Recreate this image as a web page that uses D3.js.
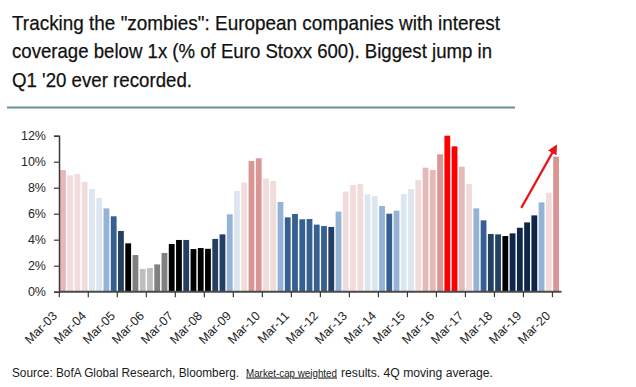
<!DOCTYPE html>
<html>
<head>
<meta charset="utf-8">
<script src="https://cdn.jsdelivr.net/npm/d3@7"></script>
<style>
  body { margin: 0; background: #fff; }
  .narrow { font-family: "Liberation Sans Narrow", "Arial Narrow", "Liberation Sans", sans-serif; }
  .axis text { font-family: "Liberation Sans", Arial, sans-serif; font-size: 12.5px; fill: #262626; }
</style>
</head>
<body>
<div id="chart-area"></div>
<script>

    // quarterly share of zombie companies (% of Euro Stoxx 600), Q1 '03 .. Q1 '20
    var years = ['03','04','05','06','07','08','09','10','11','12','13','14','15','16','17','18','19','20'];
    var months = ['Mar','Jun','Sep','Dec'];
    var zombieShare = [
      9.36, 8.95, 9.05, 8.44, 7.90, 7.20, 6.41, 5.80, 4.67, 3.72,
      2.82, 1.75, 1.82, 2.10, 2.98, 3.67, 3.98, 3.98, 3.28, 3.36,
      3.30, 4.06, 4.41, 5.95, 7.75, 8.39, 10.05, 10.26, 8.70, 8.52,
      6.90, 5.72, 5.98, 5.57, 5.59, 5.16, 5.05, 4.98, 6.16, 7.70,
      8.20, 8.28, 7.49, 7.36, 6.59, 6.00, 6.23, 7.51, 7.90, 8.59,
      9.54, 9.36, 10.57, 12.00, 11.18, 9.62, 8.28, 6.41, 5.49, 4.44,
      4.41, 4.28, 4.49, 4.92, 5.33, 5.87, 6.87, 7.62, 10.39
    ];
    // heat level of each bar in the source (0 = coolest .. 11 = hottest)
    var heatLevel = [
      9, 8, 8, 8, 7, 7, 6, 5, 4, 2,
      1, 0, 0, 1, 1, 2, 2, 4, 2, 2,
      2, 4, 4, 6, 7, 8, 10, 10, 8, 8,
      6, 5, 5, 5, 5, 5, 5, 4, 6, 8,
      8, 8, 7, 7, 6, 5, 6, 7, 7, 8,
      9, 9, 10, 11, 11, 9, 8, 6, 5, 4,
      4, 2, 3, 3, 3, 3, 6, 8, 10
    ];
    var yTicks = [0, 2, 4, 6, 8, 10, 12];

    var titleLines = [
      'Tracking the "zombies": European companies with interest',
      'coverage below 1x (% of Euro Stoxx 600). Biggest jump in',
      "Q1 '20 ever recorded."
    ];
    var sourceParts = [
      'Source: BofA Global Research, Bloomberg.',
      'Market-cap weighted',
      'results. 4Q moving average.'
    ];

    var quarters = [];
    years.forEach((yr) => {
      months.forEach((m) => { quarters.push(m + '-' + yr); });
    });
    quarters = quarters.slice(0, zombieShare.length);
    var data = zombieShare.map((v, i) => ({ q: quarters[i], value: v, heat: heatLevel[i] }));

    var svg = d3.select('#chart-area')
        .append('svg')
        .attr('width', 636)
        .attr('height', 387);

    svg.append('rect').attr('width', 636).attr('height', 387).attr('fill', '#fff');

    // title
    var titleLen = [488, 480, 180];
    var titleBase = [29.5, 58, 87];
    titleLines.forEach((t, i) => {
      svg.append('text')
        .attr('class', 'narrow')
        .attr('x', 12)
        .attr('y', titleBase[i])
        .attr('font-size', '21px')
        .attr('fill', '#111')
        .attr('stroke', '#111')
        .attr('stroke-width', 0.25)
        .attr('textLength', titleLen[i])
        .attr('lengthAdjust', 'spacingAndGlyphs')
        .text(t);
    });

    svg.append('line')
      .attr('x1', 7).attr('x2', 515)
      .attr('y1', 107.5).attr('y2', 107.5)
      .attr('stroke', '#6a8f9a')
      .attr('stroke-width', 2);

    var plotLeft = 59, plotRight = 560, plotTop = 135.7, plotBottom = 291.7;

    var xScale = d3.scaleBand()
      .domain(quarters)
      .range([plotLeft, plotRight])
      .paddingInner(0.2)
      .paddingOuter(0.14);

    var yScale = d3.scaleLinear()
      .domain([0, 12])
      .range([plotBottom, plotTop]);

    var heatColor = d3.scaleOrdinal()
      .domain(d3.range(12))
      .range(['#bfbfbf', '#808080', '#000000', '#10254a', '#233f62', '#366092',
              '#95b3d7', '#dce6f1', '#f2dcdb', '#e6b8b7', '#da9694', '#ff0000']);

    svg.append('g')
      .selectAll('rect')
      .data(data)
      .enter()
      .append('rect')
        .attr('x', (d) => xScale(d.q))
        .attr('width', xScale.bandwidth())
        .attr('y', (d) => yScale(d.value))
        .attr('height', (d) => yScale(0) - yScale(d.value))
        .attr('fill', (d) => heatColor(d.heat));

    // y axis
    var yAxisCall = d3.axisLeft(yScale)
      .tickValues(yTicks)
      .tickSize(5)
      .tickPadding(8)
      .tickFormat((d) => d + '%');
    var yAxis = svg.append('g')
      .attr('class', 'axis')
      .attr('transform', `translate(${plotLeft},0)`)
      .call(yAxisCall);
    yAxis.select('.domain').attr('stroke', '#3a3a3a').attr('stroke-width', 1.5);
    yAxis.selectAll('line').attr('stroke', '#3a3a3a').attr('stroke-width', 1.2);

    // x axis: ticks between categories, one label per year
    var step = xScale.step();
    var tickQs = quarters.filter((q, i) => i % 4 === 0);
    var xg = svg.append('g').attr('class', 'axis');
    xg.append('line')
      .attr('x1', plotLeft).attr('x2', plotRight + 1.5)
      .attr('y1', plotBottom).attr('y2', plotBottom)
      .attr('stroke', '#4a4a4a')
      .attr('stroke-width', 2);
    xg.selectAll('.tick')
      .data(tickQs)
      .enter()
      .append('line')
        .attr('x1', (q) => xScale(q) - step * xScale.paddingInner() / 2)
        .attr('x2', (q) => xScale(q) - step * xScale.paddingInner() / 2)
        .attr('y1', plotBottom)
        .attr('y2', plotBottom + 5.5)
        .attr('stroke', '#3a3a3a')
        .attr('stroke-width', 1.2);
    xg.selectAll('.lbl')
      .data(tickQs)
      .enter()
      .append('text')
        .attr('transform', (q) => `translate(${xScale(q) + xScale.bandwidth() / 2 - 5},${plotBottom + 25}) rotate(-45)`)
        .attr('text-anchor', 'end')
        .text((q) => q);

    // red arrow highlighting the Q1 '20 jump
    svg.append('defs').append('marker')
      .attr('id', 'head')
      .attr('viewBox', '0 0 10 10')
      .attr('refX', 8).attr('refY', 5)
      .attr('markerWidth', 4.5).attr('markerHeight', 4.5)
      .attr('orient', 'auto')
      .append('path')
        .attr('d', 'M0,0L10,5L0,10z')
        .attr('fill', '#e8141a');
    var qx = (i) => xScale.range()[0] + step * xScale.paddingOuter() + i * step;
    svg.append('line')
      .attr('x1', qx(63.6)).attr('y1', yScale(6.45))
      .attr('x2', qx(68.4)).attr('y2', yScale(11.2))
      .attr('stroke', '#e8141a')
      .attr('stroke-width', 2.2)
      .attr('marker-end', 'url(#head)');

    // source line, one text element with three runs
    var srcX = [12, 246, 341];
    var srcLen = [227, 91, 152];
    var srcSize = ['12.5px', '10.5px', '12.5px'];
    var src = svg.append('text')
      .attr('class', 'narrow')
      .attr('y', 376.5)
      .attr('fill', '#1a1a1a');
    sourceParts.forEach((t, i) => {
      src.append('tspan')
        .attr('x', srcX[i])
        .attr('font-size', srcSize[i])
        .attr('text-decoration', i === 1 ? 'underline' : null)
        .attr('textLength', srcLen[i])
        .attr('lengthAdjust', 'spacingAndGlyphs')
        .text(t);
    });

</script>
</body>
</html>
